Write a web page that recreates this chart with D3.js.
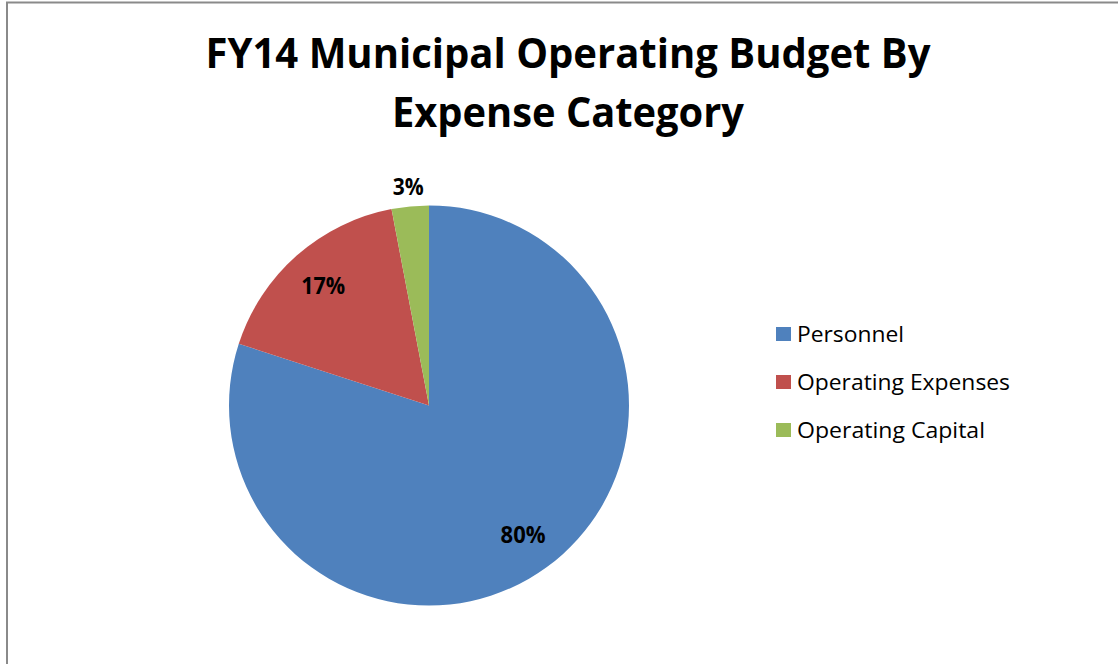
<!DOCTYPE html>
<html>
<head>
<meta charset="utf-8">
<script src="https://cdn.jsdelivr.net/npm/d3@7"></script>
<style>
  html, body { margin: 0; padding: 0; background: #fff; }
  svg { display: block; }
  text { font-family: "Open Sans", "Liberation Sans", sans-serif; fill: #000; }
</style>
</head>
<body>
<svg id="chart" width="1118" height="664"></svg>
<script>
// FY14 municipal operating budget, share by expense category
const categories = ["Personnel", "Operating Expenses", "Operating Capital"];
const shares = [80, 17, 3];
const colors = ["#4F81BD", "#C0504D", "#9BBB59"];
const titleLines = ["FY14 Municipal Operating Budget By", "Expense Category"];

const svg = d3.select("#chart");
const W = 1118, H = 664;

// chart area frame (continues past the right and bottom edges)
svg.append("rect")
  .attr("x", 7).attr("y", 2.5)
  .attr("width", W + 20).attr("height", H + 20)
  .attr("fill", "#fff")
  .attr("stroke", "#8a8a8a")
  .attr("stroke-width", 2);

// title
const titleWidths = [725, 352];
const title = svg.append("g");
titleLines.forEach((line, i) => {
  title.append("text")
    .attr("x", 568)
    .attr("y", 68 + i * 59)
    .attr("text-anchor", "middle")
    .attr("font-weight", "bold")
    .attr("font-size", 41)
    .attr("textLength", titleWidths[i])
    .attr("lengthAdjust", "spacingAndGlyphs")
    .text(line);
});

// pie
const cx = 429, cy = 405.5, r = 200;
const pie = d3.pie().sort(null).value(d => d)(shares);
const arc = d3.arc().innerRadius(0).outerRadius(r);
const total = d3.sum(shares);

const g = svg.append("g").attr("transform", `translate(${cx},${cy})`);
g.selectAll("path")
  .data(pie)
  .join("path")
  .attr("d", arc)
  .attr("fill", (d, i) => colors[i]);

// data labels: inside for large slices, just outside for small ones
const insideArc = d3.arc().innerRadius(r * 0.8).outerRadius(r * 0.8);
const outsideArc = d3.arc().innerRadius(r * 1.1).outerRadius(r * 1.1);
const labelWidths = [45, 44, 31];
g.selectAll("text.lbl")
  .data(pie)
  .join("text")
  .attr("class", "lbl")
  .attr("transform", d => {
    const c = (d.value / total < 0.05 ? outsideArc : insideArc).centroid(d);
    return `translate(${c[0]},${c[1]})`;
  })
  .attr("text-anchor", "middle")
  .attr("dy", "0.36em")
  .attr("font-weight", "bold")
  .attr("font-size", 23.5)
  .attr("textLength", (d, i) => labelWidths[i])
  .attr("lengthAdjust", "spacingAndGlyphs")
  .text(d => Math.round(d.value / total * 100) + "%");

// legend
const legendWidths = [107, 213, 188];
const legendY = d3.scalePoint().domain(categories).range([334, 430]);
const legend = svg.append("g");
const items = legend.selectAll("g")
  .data(categories)
  .join("g")
  .attr("transform", d => `translate(776,${legendY(d)})`);
items.append("rect")
  .attr("x", 0).attr("y", -7)
  .attr("width", 15).attr("height", 14)
  .attr("fill", (d, i) => colors[i]);
items.append("text")
  .attr("x", 21)
  .attr("y", 7.5)
  .attr("font-size", 22.5)
  .attr("textLength", (d, i) => legendWidths[i])
  .attr("lengthAdjust", "spacingAndGlyphs")
  .text(d => d);
</script>
</body>
</html>
